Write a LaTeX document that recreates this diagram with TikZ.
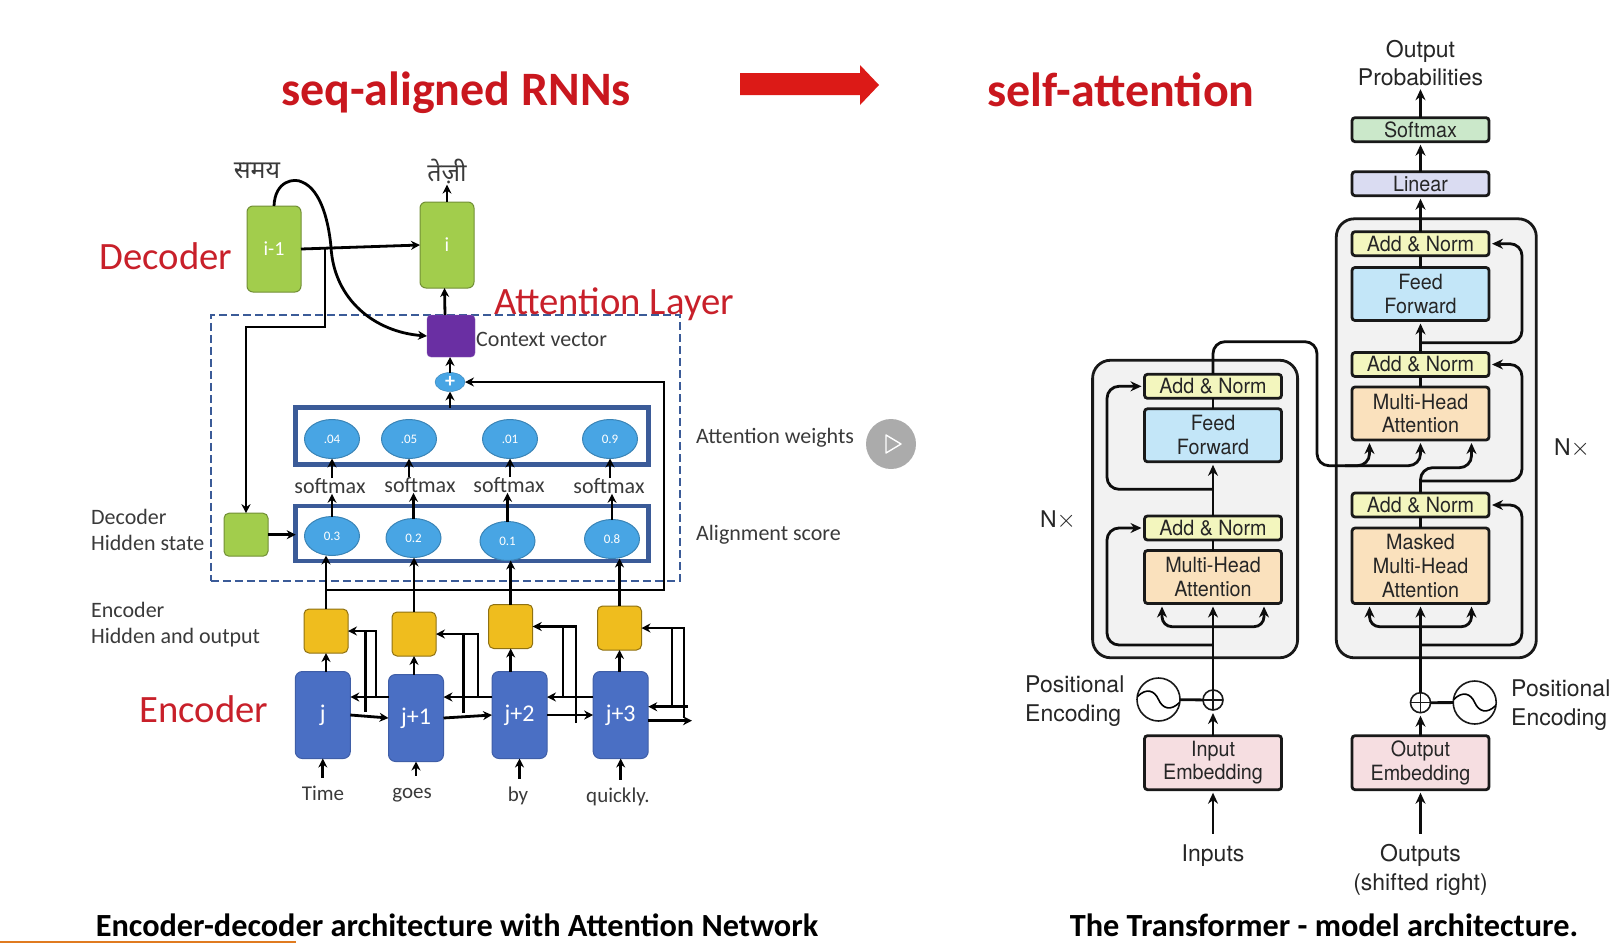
\documentclass[tikz,border=0pt]{standalone}
\usepackage{fontspec}
\setmainfont{Carlito}
\newfontfamily\helvfont{TeX Gyre Heros}
\newfontfamily\helvbox[FakeStretch=0.94]{TeX Gyre Heros}
\newfontfamily\devafont[Script=Devanagari]{Noto Sans}
\usetikzlibrary{arrows.meta,shapes.geometric}

\definecolor{titlered}{HTML}{C9171E}
\definecolor{arrowred}{HTML}{DC1A17}
\definecolor{labred}{HTML}{C8202A}
\definecolor{labgray}{HTML}{3A3A3A}
\definecolor{rulerorange}{HTML}{E07B20}
\definecolor{gategreen}{HTML}{A2CD4C}
\definecolor{gateblue}{HTML}{4A6FC4}
\definecolor{gateyellow}{HTML}{EFBD1E}
\definecolor{gatepurple}{HTML}{6A2FA3}
\definecolor{cellblue}{HTML}{48A5E4}
\definecolor{framblue}{HTML}{3B5B98}
\definecolor{tfyellow}{HTML}{F3F6BE}
\definecolor{tfblue}{HTML}{C3E6F8}
\definecolor{tforange}{HTML}{FAE1BD}
\definecolor{tfpink}{HTML}{F6DEE1}
\definecolor{tfgreen}{HTML}{CBE8CA}
\definecolor{tfviolet}{HTML}{DADCF2}

\begin{document}
\begin{tikzpicture}[
  x=1pt,y=-1pt,
  headline/.style={font=\bfseries\fontsize{48}{52}\selectfont,text=titlered,inner sep=0pt},
  caption/.style={font=\bfseries\fontsize{32.3}{36}\selectfont,text=black,inner sep=0pt},
  redlab/.style={font=\fontsize{38.7}{42}\selectfont,text=labred,inner sep=0pt},
  graylab/.style={font=\fontsize{22}{26}\selectfont,text=labgray,inner sep=0pt,align=left},
  softlab/.style={font=\fontsize{22}{26}\selectfont,text=labgray,inner sep=0pt},
  wordlab/.style={font=\fontsize{21}{25}\selectfont,text=labgray,inner sep=0pt,text height=15pt,text depth=5pt,minimum height=34pt},
  hindilab/.style={font=\devafont\fontsize{25}{29}\selectfont,text=labgray,inner sep=0pt},
  greengate/.style={draw=gategreen!70!black,fill=gategreen,rounded corners=6pt,line width=1pt,text=white,font=\fontsize{20}{24}\selectfont,minimum width=54pt,minimum height=86pt,inner sep=0pt,outer sep=0pt},
  hidgate/.style={draw=gategreen!70!black,fill=gategreen,rounded corners=5pt,line width=1pt,minimum width=44pt,minimum height=43pt,outer sep=0pt},
  bluegate/.style={draw=gateblue!85!black,fill=gateblue,rounded corners=7pt,line width=1pt,text=white,font=\fontsize{24}{28}\selectfont,minimum width=55pt,minimum height=87pt,inner sep=0pt,outer sep=0pt},
  yellowgate/.style={draw=gateyellow!60!black,fill=gateyellow,rounded corners=5pt,line width=1pt,minimum width=44pt,minimum height=44pt,outer sep=0pt},
  cell/.style={ellipse,draw=cellblue!80!black,fill=cellblue,line width=1pt,minimum width=55pt,minimum height=39pt,inner sep=0pt,outer sep=0pt,text=white,font=\fontsize{13}{15}\selectfont},
  cellframe/.style={draw=framblue,line width=4.5pt,minimum width=353pt,outer sep=0pt},
  attframe/.style={draw=framblue,line width=2pt,dash pattern=on 8pt off 4pt,minimum width=469pt,minimum height=266pt,outer sep=0pt},
  wire/.style={black,line width=2.8pt},
  arr/.style={wire,-{Stealth[length=9pt,width=9pt]}},
  tfbox/.style={draw=black!90,line width=2.8pt,rounded corners=3pt,minimum width=137pt,inner sep=0pt,outer sep=0pt,align=center,text=black!85,font=\helvbox\fontsize{21}{23.7}\selectfont},
  addnorm/.style={tfbox,fill=tfyellow,minimum height=24pt},
  feedfwd/.style={tfbox,fill=tfblue,minimum height=53pt},
  multihead/.style={tfbox,fill=tforange,minimum height=53pt},
  embedbox/.style={tfbox,fill=tfpink,minimum height=54pt},
  stackbox/.style={draw=black!90,fill=black!5,line width=2.8pt,rounded corners=18pt,outer sep=0pt},
  tftext/.style={inner sep=0pt,align=center,text=black!85,font=\helvfont\fontsize{23}{28.5}\selectfont},
  posnode/.style={circle,draw=black!90,line width=1.6pt,fill=white,minimum size=43pt,inner sep=0pt,outer sep=0pt},
  addnode/.style={circle,draw=black!90,line width=1.6pt,fill=white,minimum size=20pt,inner sep=0pt,outer sep=0pt,
    path picture={\draw[line width=1.2pt] (path picture bounding box.north) -- (path picture bounding box.south)
      (path picture bounding box.west) -- (path picture bounding box.east);}},
  twire/.style={black!95,line width=2.8pt},
  tarr/.style={twire,-{Stealth[length=11pt,width=10pt]},shorten >=3pt}
]
\useasboundingbox (0,0) rectangle (1619,943);

\def\xenc{1213}
\def\xdec{1420.5}

% top line and bottom line
\node[headline] (ttlrnn) at (456,93) {seq-aligned RNNs};
\node[headline] (ttlself) at (1121,90) {self-attention};
\fill[arrowred] (740,73) -- (860,73) -- (860,65) -- (879,85) -- (860,105) -- (860,95) -- (740,95) -- cycle;
\node[caption] (capleft) at (457,925) {Encoder-decoder architecture with Attention Network};
\node[caption] (capright) at (1324,925) {The Transformer - model architecture.};
\fill[rulerorange] (0,941) rectangle (296,943);

% play button
\node[circle,fill=black!33,minimum size=50pt,inner sep=0pt] (playbtn) at (891,444) {};
\draw[white,line width=1.4pt,line join=round] (886,435) -- (901,444) -- (886,453) -- cycle;

% attention network
\node[attframe] (attbox) at (445.3,447.8) {};
\node[cellframe,minimum height=57pt] (wgtbox) at (472.2,436.2) {};
\node[cellframe,minimum height=55pt] (alnbox) at (472.2,533.5) {};

\node[greengate] (iprev) at (274,249) {i-1};
\node[greengate] (inext) at (447,245) {i};
\node[draw=gatepurple!80!white,fill=gatepurple,rounded corners=4pt,minimum width=48pt,minimum height=42pt,outer sep=0pt] (ctx) at (451,336) {};
\node[ellipse,draw=cellblue!80!black,fill=cellblue,minimum width=30pt,minimum height=19pt,inner sep=0pt,outer sep=0pt,text=white,font=\bfseries\fontsize{20}{20}\selectfont] (plusnode) at (450,382) {+};
\node[hidgate] (dechid) at (246,534.7) {};

\foreach \i/\x/\lab in {1/332/.04,2/409/.05,3/510/.01,4/610/0.9}{
  \node[cell] (wgt\i) at (\x,439) {\lab};
}
\foreach \i/\x/\y/\lab in {1/332/536/0.3,2/413.5/538/0.2,3/507.5/541/0.1,4/612/539/0.8}{
  \node[cell] (aln\i) at (\x,\y) {\lab};
}
\foreach \i/\x/\y in {1/330/486,2/420/485,3/509/485,4/609/486}{
  \node[softlab] (sm\i) at (\x,\y) {softmax};
}
\foreach \i/\x/\y in {1/326/631,2/414/634,3/510.7/626.5,4/619.5/628}{
  \node[yellowgate] (hid\i) at (\x,\y) {};
}
\foreach \i/\x/\y/\lab in {1/322.8/715/j,2/416/718/j+1,3/519.5/715/j+2,4/620.7/715/j+3}{
  \node[bluegate] (enc\i) at (\x,\y) {\lab};
}
\foreach \i/\x/\y/\lab in {1/323/795/Time,2/412/793/goes,3/518/796/by,4/618/797/quickly.}{
  \node[wordlab] (word\i) at (\x,\y) {\lab};
}

\node[redlab] (lbldec) at (166,256) {Decoder};
\node[redlab] (lblenc) at (204,709) {Encoder};
\node[redlab] (lblatt) at (614,304) {Attention Layer};
\node[graylab,anchor=west] (lblctx) at (476,339) {Context vector};
\node[graylab,anchor=west] (lblwgt) at (696,438) {Attention weights};
\node[graylab,anchor=west] (lblaln) at (696,535) {Alignment score};
\node[graylab,anchor=west] (lblhid) at (91,529.5) {Decoder\\Hidden state};
\node[graylab,anchor=west] (lblout) at (91,625) {Encoder\\Hidden and output};
\node[hindilab] (samay) at (257,171) {समय};
\node[hindilab] (tezi) at (447,172) {तेज़ी};

\coordinate (taphid) at (325,247);
\coordinate (ctxjoin) at (326,590);
\coordinate (outback) at (688,706.7);
\coordinate (outfwd) at (692,720.7);

\draw[arr] (iprev.east) -- (inext.west);
\draw[arr] (inext.north) -- (tezi.south);
\draw[arr] ([xshift=-6pt]ctx.north) -- ([xshift=-2.5pt]inext.south);
\draw[arr] (plusnode.north) -- (plusnode.north |- ctx.south);
\draw[arr] (wgtbox.north -| plusnode) -- (plusnode.south);
\draw[arr] (ctxjoin) -- ++(338,0) |- (plusnode.east);
\draw[arr] (taphid) -- ++(0,80) -| (dechid.north);
\draw[arr] (dechid.east) -- (dechid.east -| alnbox.west);
\draw[arr] (iprev.north) .. controls (275,180) and (295,178) .. (302,182) .. controls (322,190) and (329,225) .. (331,247) .. controls (334,300) and (375,332) .. (ctx.west);

\foreach \i in {1,...,4}{
  \draw[arr] (aln\i.north) -- (sm\i.south -| aln\i);
  \draw[arr] (sm\i.north -| wgt\i) -- (wgt\i.south);
  \draw[arr] (hid\i.north) -- (hid\i.north |- aln\i.south);
  \draw[arr] (enc\i.north -| hid\i) -- (hid\i.south);
  \draw[arr] (word\i.north -| enc\i) -- (enc\i.south);
}
\foreach \i/\j in {1/2,2/3,3/4}{
  \draw[arr] (enc\i.east) -- (enc\j.west);
  \draw[arr] (enc\j.west |- 0,697) -- (enc\i.east |- 0,697);
}
\draw[arr] (outback) -- (enc4.east |- outback);
\draw[arr] (enc4.east |- outfwd) -- (outfwd);

\foreach \i/\xa/\ya/\xb/\yb in {1/376/697/365.7/711.7,2/478/697/463.7/713,3/576/723/563/697,4/684/718/672/706.7}{
  \coordinate (fbo\i) at (\xa,\ya);
  \coordinate (fbi\i) at (\xb,\yb);
  \draw[arr] (fbo\i) |- (hid\i.east);
  \draw[wire] (fbi\i) -- (fbi\i |- hid\i.east);
}

% transformer
\node[stackbox,minimum width=205pt,minimum height=297.5pt] (stackL) at (1195.1,509) {};
\node[stackbox,minimum width=200pt,minimum height=439pt] (stackR) at (1436.3,438.3) {};

\node[addnorm] (anL2) at (\xenc,386.3) {Add \& Norm};
\node[feedfwd] (ffL) at (\xenc,435.3) {Feed\\Forward};
\node[addnorm] (anL1) at (\xenc,528) {Add \& Norm};
\node[multihead] (mhaL) at (\xenc,577) {Multi-Head\\Attention};
\node[embedbox] (embL) at (\xenc,762.7) {Input\\Embedding};

\node[tfbox,fill=tfgreen,minimum height=24pt] (softR) at (\xdec,129.7) {Softmax};
\node[tfbox,fill=tfviolet,minimum height=24pt] (linR) at (\xdec,183.7) {Linear};
\node[addnorm] (anR3) at (\xdec,243.7) {Add \& Norm};
\node[feedfwd] (ffR) at (\xdec,294) {Feed\\Forward};
\node[addnorm] (anR2) at (\xdec,364.5) {Add \& Norm};
\node[multihead] (mhaR) at (\xdec,413.5) {Multi-Head\\Attention};
\node[addnorm] (anR1) at (\xdec,505) {Add \& Norm};
\node[multihead,minimum height=75.5pt] (maskR) at (\xdec,565.8) {Masked\\Multi-Head\\Attention};
\node[embedbox] (embR) at (\xdec,762.7) {Output\\Embedding};

\node[addnode] (addL) at (\xenc,700) {};
\node[addnode] (addR) at (\xdec,702.7) {};
\node[posnode] (posL) at (1158.5,699.5) {};
\node[posnode] (posR) at (1474.7,702.5) {};
\foreach \n in {posL,posR}{
  \draw[line width=1.6pt,shift={(\n.center)}] (-21,-3) .. controls (-12,-12) and (-4,-9) .. (0,0) .. controls (4,9) and (12,12) .. (21,3);
}

\node[tftext] (probs) at (\xdec,63) {Output\\Probabilities};
\node[tftext,minimum height=44pt] (lblinp) at (\xenc,856) {Inputs};
\node[tftext,minimum height=72pt] (lblshift) at (\xdec,870) {Outputs\\(shifted right)};
\node[tftext,align=left,anchor=west] (lblposL) at (1025,701) {Positional\\Encoding};
\node[tftext,align=left,anchor=west] (lblposR) at (1511,705) {Positional\\Encoding};
\node[tftext] (lblnL) at (1058,520) {N$\times$};
\node[tftext] (lblnR) at (1572,448) {N$\times$};

\coordinate (forkL) at (\xenc,626.7);
\coordinate (resL1) at (\xenc,645);
\coordinate (resL2) at (\xenc,489.3);
\coordinate (forkR) at (\xdec,626.7);
\coordinate (resR0) at (\xdec,645);
\coordinate (resR1) at (\xdec,481);
\coordinate (resR2) at (\xdec,342.7);
\coordinate (memL) at (1317,465.7);
\coordinate (memS) at (1345,465.7);

\draw[tarr] (lblinp.north) -- (embL);
\draw[tarr] (embL) -- (addL);
\draw[tarr] (addL) -- (mhaL);
\draw[twire] (posL) -- (addL);
\draw[tarr,rounded corners=10pt] (forkL) -| ([xshift=-51pt]mhaL.south);
\draw[tarr,rounded corners=10pt] (forkL) -| ([xshift=51pt]mhaL.south);
\draw[tarr,rounded corners=12pt] (resL1) -- ++(-106,0) |- (anL1.west);
\draw[twire] (mhaL) -- (anL1);
\draw[tarr] (anL1) -- (ffL);
\draw[twire] (ffL) -- (anL2);
\draw[tarr,rounded corners=12pt] (resL2) -- ++(-106,0) |- (anL2.west);
\draw[tarr,rounded corners=12pt] (anL2.north) -- ++(0,-32.6) -| (memL) -| ([xshift=-51pt]mhaR.south);
\draw[tarr,rounded corners=12pt] (memS) -| (mhaR.south);

\draw[tarr] (lblshift.north) -- (embR);
\draw[tarr] (embR) -- (addR);
\draw[tarr] (addR) -- (maskR);
\draw[twire] (posR) -- (addR);
\draw[tarr,rounded corners=10pt] (forkR) -| ([xshift=-51pt]maskR.south);
\draw[tarr,rounded corners=10pt] (forkR) -| ([xshift=51pt]maskR.south);
\draw[tarr,rounded corners=12pt] (resR0) -- ++(101.5,0) |- (anR1.east);
\draw[twire] (maskR) -- (anR1);
\draw[tarr,rounded corners=12pt] (anR1.north) -- ++(0,-25.3) -| ([xshift=51pt]mhaR.south);
\draw[tarr,rounded corners=12pt] (resR1) -- ++(101.5,0) |- (anR2.east);
\draw[twire] (mhaR) -- (anR2);
\draw[tarr] (anR2) -- (ffR);
\draw[tarr,rounded corners=12pt] (resR2) -- ++(101.5,0) |- (anR3.east);
\draw[twire] (ffR) -- (anR3);
\draw[tarr] (anR3) -- (linR);
\draw[tarr] (linR) -- (softR);
\draw[tarr] (softR) -- (probs);

\end{tikzpicture}
\end{document}
